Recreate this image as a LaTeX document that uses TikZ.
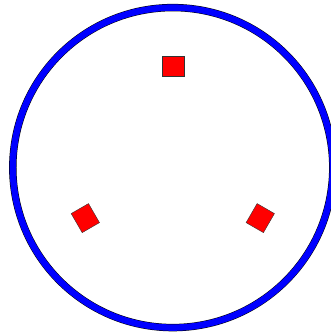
\documentclass[tikz,border=0pt]{standalone}
\usepackage{xcolor}
\usepackage{tikz}
\usetikzlibrary{positioning, calc}

\tikzset{
    pad/.style={draw=black!80, thin, fill=red, inner sep=0pt, minimum width=22pt, minimum height=20pt},
    rim/.style={draw=black, double=blue, double distance=6.4pt, line width=0.5pt}
}

\begin{document}
\begin{tikzpicture}[x=1pt, y=1pt]
    \useasboundingbox (-172.8,-166.4) rectangle (158.2,167.6);
    \coordinate (centre) at (0,0);
    \draw[rim] (centre) circle (160);

    \node[pad] (padtop) at ($(centre)+(90:101)$) {};
    \node[pad, rotate=120] (padleft) at ($(centre)+(210:101)$) {};
    \node[pad, rotate=240] (padright) at ($(centre)+(330:101)$) {};
\end{tikzpicture}
\end{document}
